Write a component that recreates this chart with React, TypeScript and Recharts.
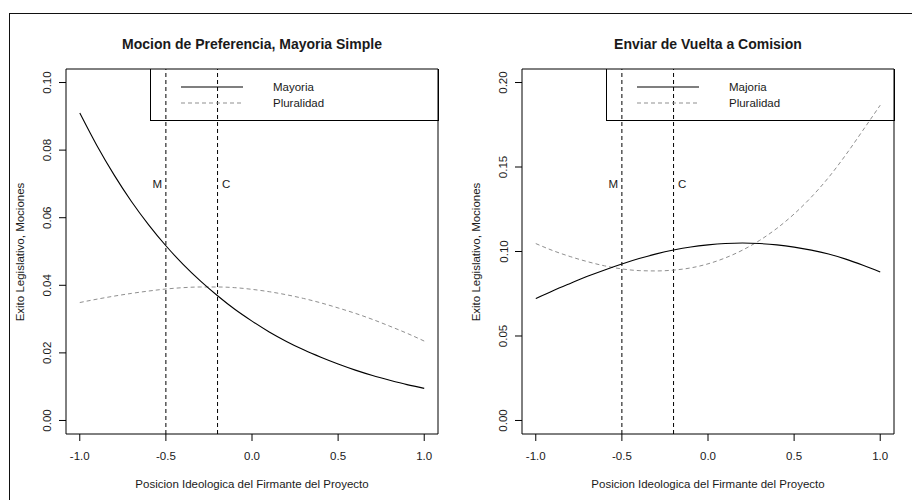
import React from 'react';
import {
    Line,
    LineChart,
    ReferenceArea,
    ReferenceDot,
    ReferenceLine,
    XAxis,
    YAxis,
} from 'recharts';

const FONT = '"Liberation Sans", Arial, Helvetica, sans-serif';
const TEXT_COLOR = '#1a1a1a';
const DASHED_COLOR = '#8f8f8f';

const X_VALUES = [-1.0, -0.9, -0.8, -0.7, -0.6, -0.5, -0.4, -0.3, -0.2, -0.1, 0.0, 0.1, 0.2, 0.3, 0.4, 0.5, 0.6, 0.7, 0.8, 0.9, 1.0];

const MOCION_MAYORIA = [0.091, 0.0813, 0.0726, 0.0648, 0.0579, 0.0517, 0.0462, 0.0413, 0.0369, 0.0329, 0.0294, 0.0262, 0.0234, 0.0209, 0.0187, 0.0167, 0.0149, 0.0133, 0.0119, 0.0106, 0.0095];
const MOCION_PLURALIDAD = [0.0349, 0.0359, 0.0368, 0.0376, 0.0383, 0.0389, 0.0393, 0.0395, 0.0395, 0.0393, 0.0388, 0.0381, 0.0372, 0.0361, 0.0348, 0.0333, 0.0317, 0.0299, 0.0279, 0.0258, 0.0235];

const COMISION_MAJORIA = [0.0722, 0.0768, 0.0811, 0.0853, 0.0891, 0.0926, 0.0958, 0.0986, 0.1009, 0.1027, 0.1039, 0.1047, 0.105, 0.1047, 0.1039, 0.1026, 0.1008, 0.0985, 0.0955, 0.0919, 0.0879];
const COMISION_PLURALIDAD = [0.1047, 0.1005, 0.097, 0.094, 0.0915, 0.0897, 0.0887, 0.0885, 0.089, 0.0903, 0.0927, 0.0962, 0.1008, 0.1066, 0.1137, 0.1222, 0.1322, 0.1438, 0.1572, 0.1718, 0.1866];

const X_TICKS = [-1.0, -0.5, 0.0, 0.5, 1.0];
const MOCION_Y_TICKS = [0.0, 0.02, 0.04, 0.06, 0.08, 0.1];
const COMISION_Y_TICKS = [0.0, 0.05, 0.1, 0.15, 0.2];

const MARKERS = [
    {x: -0.5, labelX: -0.55, label: 'M'},
    {x: -0.2, labelX: -0.15, label: 'C'},
];

const X_DOMAIN: [number, number] = [-1.08, 1.08];

interface PanelProps {
    readonly title: string;
    readonly solid: number[];
    readonly dashed: number[];
    readonly solidName: string;
    readonly yTicks: number[];
    readonly yDomain: [number, number];
    readonly markerY: number;
    readonly left: number;
}

function buildData(solid: number[], dashed: number[]) {
    return X_VALUES.map((x, i) => ({x, solid: solid[i], dashed: dashed[i]}));
}

function YTick(props: any) {
    const {x, y, payload} = props;
    const cx = x - 9.5;
    return (
        <text
            x={cx}
            y={y}
            transform={`rotate(-90, ${cx}, ${y})`}
            textAnchor="middle"
            dominantBaseline="central"
            fontSize={11.5}
            fontFamily={FONT}
            fill={TEXT_COLOR}
        >
            {payload.value.toFixed(2)}
        </text>
    );
}

function Panel({title, solid, dashed, solidName, yTicks, yDomain, markerY, left}: PanelProps) {
    const data = buildData(solid, dashed);
    return (
        <div style={{position: 'absolute', left, top: 0, width: 456, height: 500}}>
            <LineChart
                width={456}
                height={500}
                data={data}
                margin={{top: 69, right: 18, bottom: 36, left: 26}}
            >
                <XAxis
                    dataKey="x"
                    type="number"
                    domain={X_DOMAIN}
                    ticks={X_TICKS}
                    allowDataOverflow
                    tickFormatter={(v: number) => v.toFixed(1)}
                    axisLine={false}
                    tickLine={{stroke: '#000'}}
                    tickSize={7}
                    tickMargin={11}
                    height={30}
                    tick={{fontSize: 11.5, fill: TEXT_COLOR, fontFamily: FONT}}
                />
                <YAxis
                    type="number"
                    domain={yDomain}
                    ticks={yTicks}
                    allowDataOverflow
                    axisLine={false}
                    tickLine={{stroke: '#000'}}
                    tickSize={7}
                    tickMargin={2}
                    width={40}
                    tick={<YTick/>}
                />
                <ReferenceArea
                    x1={X_DOMAIN[0]}
                    x2={X_DOMAIN[1]}
                    y1={yDomain[0]}
                    y2={yDomain[1]}
                    fill="none"
                    fillOpacity={0}
                    stroke="#000"
                    strokeWidth={1}
                    ifOverflow="visible"
                />
                {MARKERS.map((m) => (
                    <ReferenceLine key={m.label} x={m.x} stroke="#000" strokeDasharray="4 3" ifOverflow="visible"/>
                ))}
                {MARKERS.map((m) => (
                    <ReferenceDot
                        key={`lbl-${m.label}`}
                        x={m.labelX}
                        y={markerY}
                        r={0}
                        fill="none"
                        stroke="none"
                        label={{value: m.label, position: 'center', fontSize: 11.5, fill: TEXT_COLOR, fontFamily: FONT}}
                    />
                ))}
                <Line
                    dataKey="dashed"
                    type="monotone"
                    stroke={DASHED_COLOR}
                    strokeWidth={1}
                    strokeDasharray="4 3"
                    dot={false}
                    isAnimationActive={false}
                />
                <Line
                    dataKey="solid"
                    type="monotone"
                    stroke="#000"
                    strokeWidth={1.1}
                    dot={false}
                    isAnimationActive={false}
                />
            </LineChart>

            {/* title */}
            <div style={{position: 'absolute', left: 66, width: 372, top: 35, textAlign: 'center', fontFamily: FONT, fontWeight: 'bold', fontSize: 14, color: TEXT_COLOR, lineHeight: '18px'}}>
                {title}
            </div>

            {/* x axis title */}
            <div style={{position: 'absolute', left: 66, width: 372, top: 476, textAlign: 'center', fontFamily: FONT, fontSize: 11.5, color: TEXT_COLOR, lineHeight: '16px'}}>
                Posicion Ideologica del Firmante del Proyecto
            </div>

            {/* y axis title */}
            <div style={{position: 'absolute', left: 20, top: 251.5, width: 0, height: 0}}>
                <div style={{position: 'absolute', transform: 'translate(-50%, -50%) rotate(-90deg)', whiteSpace: 'nowrap', fontFamily: FONT, fontSize: 11.5, color: TEXT_COLOR, lineHeight: '14px'}}>
                    Exito Legislativo, Mociones
                </div>
            </div>

            {/* legend */}
            <div style={{position: 'absolute', left: 150, top: 69, width: 287, height: 51, border: '1px solid #000', borderTop: 'none', boxSizing: 'content-box'}}>
                <svg width={70} height={50} style={{position: 'absolute', left: 29, top: 0}}>
                    <line x1={1} x2={63} y1={18} y2={18} stroke="#000" strokeWidth={1.1}/>
                    <line x1={1} x2={63} y1={34} y2={34} stroke={DASHED_COLOR} strokeWidth={1} strokeDasharray="4 3"/>
                </svg>
                <div style={{position: 'absolute', left: 122, top: 10, fontFamily: FONT, fontSize: 11.5, color: TEXT_COLOR, lineHeight: '16px'}}>{solidName}</div>
                <div style={{position: 'absolute', left: 122, top: 26, fontFamily: FONT, fontSize: 11.5, color: TEXT_COLOR, lineHeight: '16px'}}>Pluralidad</div>
            </div>
        </div>
    );
}

export default function App() {
    return (
        <div style={{position: 'absolute', left: 0, top: 0, width: 912, height: 500, background: '#fff', overflow: 'hidden'}}>
            <div style={{position: 'absolute', left: 9, top: 13, width: 903, height: 487, borderTop: '1.5px solid #111', borderLeft: '1.5px solid #111'}}/>
            <Panel
                title="Mocion de Preferencia, Mayoria Simple"
                solid={MOCION_MAYORIA}
                dashed={MOCION_PLURALIDAD}
                solidName="Mayoria"
                yTicks={MOCION_Y_TICKS}
                yDomain={[-0.004, 0.104]}
                markerY={0.07}
                left={0}
            />
            <Panel
                title="Enviar de Vuelta a Comision"
                solid={COMISION_MAJORIA}
                dashed={COMISION_PLURALIDAD}
                solidName="Majoria"
                yTicks={COMISION_Y_TICKS}
                yDomain={[-0.008, 0.208]}
                markerY={0.14}
                left={456}
            />
        </div>
    );
}
